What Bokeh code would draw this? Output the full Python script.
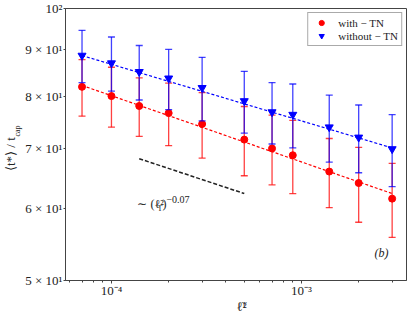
import numpy as np
from bokeh.plotting import figure
from bokeh.models import FixedTicker, Label, Legend, LegendItem, Range1d, LinearAxis
from bokeh.embed import file_html
from bokeh.resources import INLINE

# ---- data ----
ell2 = [7e-5, 1e-4, 1.4e-4, 2e-4, 3e-4, 5e-4, 7e-4, 9e-4, 1.4e-3, 2e-3, 3e-3]
with_tn = [81.9, 80.0, 78.0, 76.6, 74.5, 71.6, 70.0, 68.8, 66.0, 64.1, 61.6]
with_tn_err = [5.9, 6.1, 5.8, 6.1, 6.2, 6.3, 6.2, 6.4, 5.8, 6.1, 5.8]
without_tn = [88.7, 87.0, 85.1, 83.7, 81.7, 79.0, 76.8, 76.3, 73.9, 72.0, 69.9]
without_tn_err = [5.9, 6.0, 5.9, 6.4, 6.6, 6.2, 6.0, 6.2, 6.3, 6.2, 6.4]

fit_x = [7e-5, 3e-3]
with_fit = [82.2, 62.4]
without_fit = [88.7, 70.1]

guide_x = [1.4e-4, 5e-4]
guide_y = [68.2, 62.4]

x_ticks = [1e-4, 1e-3]
x_tick_labels = ["10⁻⁴", "10⁻³"]
x_minor = [6e-5, 7e-5, 8e-5, 9e-5, 2e-4, 3e-4, 4e-4, 5e-4, 6e-4, 7e-4, 8e-4, 9e-4, 2e-3, 3e-3]
y_ticks = [50, 60, 70, 80, 90, 100]
y_tick_labels = ["5 × 10¹", "6 × 10¹", "7 × 10¹", "8 × 10¹", "9 × 10¹", "10²"]

# axis-title anchors (data positions along each axis)
xlabel_pos = 4.84e-4
xlabel_sub_pos = 5.0e-4
ylabel_pos = 69.0
ylabel_sub_pos = 73.2

RED = "#ff0000"
BLUE = "#0000ff"
FONT = "Liberation Serif"
TXT = "#222222"

p = figure(x_axis_type="log", y_axis_type="log",
           x_range=Range1d(5.73e-5, 3.57e-3), y_range=Range1d(50, 100),
           frame_width=341, frame_height=272,
           min_border_left=58, min_border_right=8, min_border_top=8, min_border_bottom=36,
           output_backend="svg", toolbar_location=None)
p.xgrid.visible = False
p.ygrid.visible = False
p.outline_line_color = "#444444"
p.outline_line_width = 1

# x axis
p.xaxis.ticker = FixedTicker(ticks=x_ticks, minor_ticks=x_minor)
p.xaxis.major_label_overrides = dict(zip(x_ticks, x_tick_labels))
p.xaxis.major_tick_out = 3
p.xaxis.major_tick_in = 0
p.xaxis.minor_tick_out = 2
p.xaxis.minor_tick_in = 0
p.xaxis.major_label_standoff = -1
# y axis
p.yaxis.ticker = FixedTicker(ticks=y_ticks, minor_ticks=[])
p.yaxis.major_label_overrides = dict(zip(y_ticks, y_tick_labels))
p.yaxis.major_tick_out = 2
p.yaxis.major_tick_in = 0
p.yaxis.major_label_standoff = 1
for ax in (p.xaxis, p.yaxis):
    ax.axis_line_color = "#444444"
    ax.major_tick_line_color = "#444444"
    ax.minor_tick_line_color = "#444444"
    ax.major_label_text_font = FONT
    ax.major_label_text_font_size = "13px"
    ax.major_label_text_color = TXT


def title_axis(side, pos, text, size, standoff, orientation="horizontal"):
    ax = LinearAxis(ticker=FixedTicker(ticks=[pos], minor_ticks=[]),
                    major_label_overrides={pos: text},
                    axis_line_color=None, major_tick_line_color=None, minor_tick_line_color=None,
                    major_tick_out=0, major_tick_in=0, minor_tick_out=0, minor_tick_in=0,
                    major_label_standoff=standoff, major_label_orientation=orientation,
                    major_label_text_font=FONT, major_label_text_font_size=size,
                    major_label_text_color=TXT)
    p.add_layout(ax, side)


# y title: <t*> / t_cap  (subscript axis first = closer to the plot)
title_axis("left", ylabel_sub_pos, "cap", "8px", 0, "vertical")
title_axis("left", ylabel_pos, "⟨t*⟩ / t", "13px", -8, "vertical")
# x title: l^2_T
title_axis("below", xlabel_sub_pos, "T", "8px", 0)
title_axis("below", xlabel_pos, "ℓ²", "13px", -14)


def errorbars(y, err, color):
    y = np.array(y)
    e = np.array(err)
    lo = y - e
    hi = y + e
    p.segment(x0=ell2, y0=lo, x1=ell2, y1=hi, line_color=color, line_width=1.3, line_alpha=0.75)
    p.scatter(x=ell2, y=hi, marker="dash", size=7, line_color=color, line_width=1.3, line_alpha=0.75)
    p.scatter(x=ell2, y=lo, marker="dash", size=7, line_color=color, line_width=1.3, line_alpha=0.75)


errorbars(with_tn, with_tn_err, RED)
p.line(fit_x, with_fit, line_color=RED, line_width=1.2, line_dash="3 2")
r_red = p.scatter(x=ell2, y=with_tn, marker="circle", size=7, fill_color=RED, line_color=RED)

errorbars(without_tn, without_tn_err, BLUE)
p.line(fit_x, without_fit, line_color=BLUE, line_width=1.2, line_dash="3 2")
r_blue = p.scatter(x=ell2, y=without_tn, marker="inverted_triangle", size=8, fill_color=BLUE, line_color=BLUE)

p.line(guide_x, guide_y, line_color="#222222", line_width=1.5, line_dash="4 2")

legend = Legend(items=[LegendItem(label="with − TN", renderers=[r_red]),
                       LegendItem(label="without − TN", renderers=[r_blue])],
                location="top_right", margin=4, padding=3, spacing=0,
                glyph_width=20, glyph_height=13, label_height=13, label_standoff=7,
                border_line_color="#555555", border_line_width=1)
legend.label_text_font = FONT
legend.label_text_font_size = "11px"
legend.label_text_color = TXT
p.add_layout(legend)

# guide annotation  ~ (l^2_T)^-0.07
ax_, ay_ = 1.37e-4, 60.7
def ann(text, dx, dy, size):
    p.add_layout(Label(x=ax_, y=ay_, x_offset=dx, y_offset=dy, text=text, text_font=FONT,
                       text_font_size=size, text_color=TXT, text_baseline="middle"))
ann("∼ (ℓ²", 0, 0, "12px")
ann("T", 20, -4, "8px")
ann(")", 25, 0, "12px")
ann("−0.07", 29, 5, "10px")

# panel tag
p.add_layout(Label(x=309, y=28, x_units="screen", y_units="screen", text="(b)",
                   text_font=FONT, text_font_size="12px", text_font_style="italic",
                   text_color=TXT, text_baseline="middle"))

open("out.html", "w").write(file_html(p, INLINE))
